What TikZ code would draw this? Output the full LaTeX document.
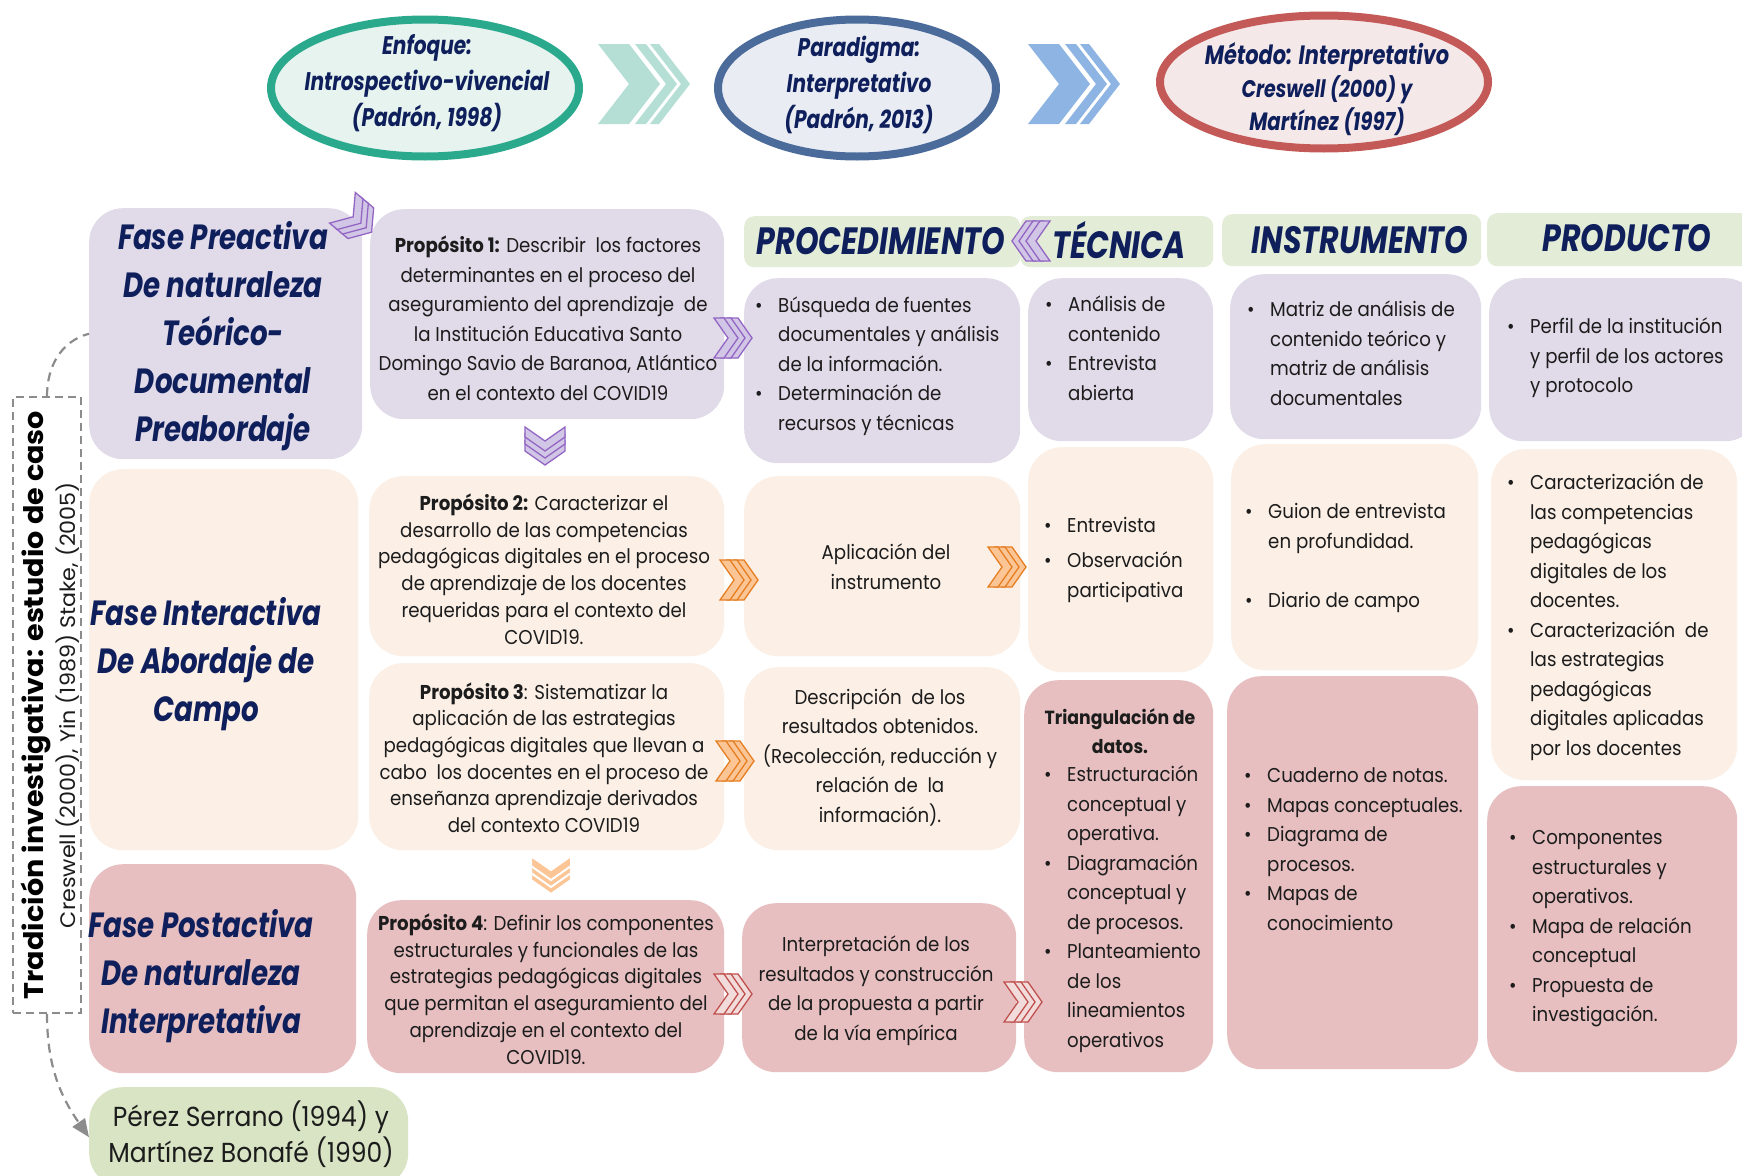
\documentclass[tikz,border=0pt]{standalone}
\usepackage{fontspec}
\setmainfont[FakeStretch=0.91]{Poppins}
\newfontfamily\bodyB[FakeStretch=0.91]{Poppins}
\newfontfamily\hd[FakeStretch=0.79]{Poppins}
\newfontfamily\wide[FakeStretch=1.06]{Poppins}
\usetikzlibrary{arrows.meta,shapes.geometric}
\definecolor{navy}{HTML}{0E1F5B}
\definecolor{lav}{HTML}{E0DAE9}
\definecolor{peach}{HTML}{FBEFE6}
\definecolor{rosa}{HTML}{E7BFC0}
\definecolor{hgreen}{HTML}{E3ECD6}
\definecolor{pgreen}{HTML}{D8E4C3}
\definecolor{txt}{HTML}{1C1C1C}
\definecolor{tealD}{HTML}{2BA98C}
\definecolor{tealF}{HTML}{E6F3EF}
\definecolor{tealC}{HTML}{B5DFD5}
\definecolor{blueD}{HTML}{4B6B9B}
\definecolor{blueF}{HTML}{E9ECF3}
\definecolor{blueC}{HTML}{8DB4E2}
\definecolor{redD}{HTML}{C45A57}
\definecolor{redF}{HTML}{F5E8E8}
\definecolor{purD}{HTML}{9366C4}
\definecolor{purF}{HTML}{D2C6E6}
\definecolor{orD}{HTML}{E67E22}
\definecolor{orF}{HTML}{FBC596}
\definecolor{pkD}{HTML}{C0504D}
\definecolor{pkF}{HTML}{F2DCDB}
\definecolor{dgray}{HTML}{8C8C8C}
\newcommand\bu{\makebox[23pt][l]{\textbullet}}
\tikzset{
  box/.style={rounded corners=34pt, inner sep=0pt, anchor=north west, draw=none},
  hbox/.style={rounded corners=10pt, inner sep=0pt, anchor=north west, draw=none, fill=hgreen},
  tb/.style={inner sep=0pt, text=txt, font=\fontsize{20}{29.5}\selectfont},
  tbc/.style={tb, align=center},
  tbn/.style={inner sep=0pt, text=txt, align=center, font=\fontsize{20}{26.7}\selectfont},
  tr/.style={inner sep=0pt, text=txt, font=\bodyB\fontsize{20}{29.5}\selectfont},
  hdr/.style={inner sep=0pt, text=navy, font=\hd\bfseries\itshape\fontsize{38}{40}\selectfont},
  phase/.style={inner sep=0pt, text=navy, align=center, font=\hd\bfseries\itshape\fontsize{35}{48}\selectfont},
  elt/.style={inner sep=0pt, text=navy, align=center, font=\hd\bfseries\itshape\fontsize{25.5}{36}\selectfont},
  ell/.style={ellipse, line width=8pt, inner sep=0pt},
  dline/.style={draw=dgray, line width=2.2pt, dash pattern=on 9pt off 6pt},
}
\newcommand\bx[6]{\node[box,fill=#2,minimum width=#5pt,minimum height=#6pt] (#1) at (#3,#4) {};}
\newcommand\hx[5]{\node[hbox,minimum width=#4pt,minimum height=#5pt] (#1) at (#2,#3) {};}
\newcommand\tchev[5]{%
  \begin{scope}[shift={#1},rotate=#2]
    \foreach \o in {14,7,0}{
      \filldraw[fill=#3,draw=#4,line width=#5,line join=miter]
        (\o-19,-20) -- ++(10,0) -- ++(14,20) -- ++(-14,20) -- ++(-10,0) -- ++(14,-20) -- cycle;}
  \end{scope}}
\newcommand\bigchev[2]{%
  \begin{scope}[shift={#1}]
    \fill[#2] (0,0) -- (31,0) -- (62,40) -- (31,80) -- (0,80) -- (31,40) -- cycle;
    \fill[#2] (37,0) -- (48,0) -- (79,40) -- (48,80) -- (37,80) -- (68,40) -- cycle;
    \fill[#2] (52,0) -- (61,0) -- (92,40) -- (61,80) -- (52,80) -- (83,40) -- cycle;
  \end{scope}}
\begin{document}
\begin{tikzpicture}[x=1pt,y=-1pt]
\useasboundingbox (0,0) rectangle (1742,1175);
\fill[white] (0,0) rectangle (1742,1175);

% top ellipses
\node[ell, draw=tealD, fill=tealF, minimum width=308pt, minimum height=137pt] (e1) at (425,88) {};
\node[ell, draw=blueD, fill=blueF, minimum width=278pt, minimum height=137pt] (e2) at (857,88) {};
\node[ell, draw=redD, fill=redF, minimum width=328pt, minimum height=133pt] (e3) at (1324,82) {};
\node[elt] (e1t) at (427,83) {Enfoque:\\Introspectivo-vivencial\\(Padrón, 1998)};
\node[elt] (e2t) at (859,85) {Paradigma:\\Interpretativo\\(Padrón, 2013)};
\node[elt, font=\hd\bfseries\itshape\fontsize{26.5}{33}\selectfont] (e3t) at (1327,89) {Método: Interpretativo\\{\fontsize{24}{33}\selectfont Creswell (2000) y}\\{\fontsize{25}{31}\selectfont Martínez (1997)}};
\bigchev{(598,44)}{tealC}
\bigchev{(1028,44)}{blueC}

% boxes
\bx{ph1}{lav}{89}{208}{273}{251}
\bx{ph2}{peach}{89}{469}{269}{381}
\bx{ph3}{rosa}{89}{864}{267}{209}
\bx{perez}{pgreen}{89}{1087}{319}{100}
\bx{p1}{lav}{370}{209}{354}{210}
\bx{p2}{peach}{369}{476}{355}{180}
\bx{p3}{peach}{369}{663}{355}{187}
\bx{p4}{rosa}{367}{900}{357}{173}
\bx{pc1}{lav}{744}{278}{276}{185}
\bx{pc2}{peach}{744}{476}{276}{180}
\bx{pc3}{peach}{744}{667}{276}{183}
\bx{pc4}{rosa}{742}{903}{274}{169}
\bx{t1}{lav}{1028}{278}{185}{163}
\bx{t2}{peach}{1028}{447}{185}{225}
\bx{t3}{rosa}{1024}{680}{189}{392}
\bx{i1}{lav}{1230}{274}{251}{165}
\bx{i2}{peach}{1231}{444}{247}{226}
\bx{i3}{rosa}{1227}{676}{251}{393}
\bx{pr1}{lav}{1489}{278}{270}{163}
\bx{pr2}{peach}{1491}{449}{246}{331}
\bx{pr3}{rosa}{1487}{786}{250}{286}
\hx{hproc}{744}{216}{276}{51}
\hx{htec}{1020}{216}{193}{51}
\hx{hins}{1222}{214}{259}{52}
\hx{hprod}{1487}{213}{270}{53}

% headers
\node[hdr] (hproct) at (881,241) {PROCEDIMIENTO};
\node[hdr] (htect) at (1119,240) {TÉCNICA};
\node[hdr] (hinst) at (1360,240) {INSTRUMENTO};
\node[hdr] (hprodt) at (1627,238) {PRODUCTO};

% phases
\node[phase] (ph1t) at (223,336.5) {Fase Preactiva\\De naturaleza\\Teórico-\\Documental\\Preabordaje};
\node[phase] (ph2t) at (206,664.5) {Fase Interactiva\\De Abordaje de\\Campo};
\node[phase] (ph3t) at (201,976.5) {Fase Postactiva\\De naturaleza\\Interpretativa};
\node[inner sep=0pt, text=txt, align=center, font=\fontsize{27.5}{36}\selectfont] (perezt) at (251,1134) {Pérez Serrano (1994) y\\Martínez Bonafé (1990)};

% purposes
\node[tbc] (p1t) at (548,318) {\textbf{Propósito 1:} Describir\ \ los factores\\determinantes en el proceso del\\aseguramiento del aprendizaje\ \ de\\la Institución Educativa Santo\\Domingo Savio de Baranoa, Atlántico\\en el contexto del COVID19};
\node[tbn] (p2t) at (544,569) {\textbf{Propósito 2:} Caracterizar el\\desarrollo de las competencias\\pedagógicas digitales en el proceso\\de aprendizaje de los docentes\\requeridas para el contexto del\\COVID19.};
\node[tbn] (p3t) at (544,757.5) {\textbf{Propósito 3}: Sistematizar la\\aplicación de las estrategias\\pedagógicas digitales que llevan a\\cabo\ \ los docentes en el proceso de\\enseñanza aprendizaje derivados\\del contexto COVID19};
\node[tbn] (p4t) at (546,989) {\textbf{Propósito 4}: Definir los componentes\\estructurales y funcionales de las\\estrategias pedagógicas digitales\\que permitan el aseguramiento del\\aprendizaje en el contexto del\\COVID19.};

% procedures
\node[tb, anchor=west] (pc1t) at (755,365.5) {\begin{tabular}{@{}l@{}l@{}}\bu & Búsqueda de fuentes\\ & documentales y análisis\\ & de la información.\\ \bu & Determinación de\\ & recursos y técnicas\end{tabular}};
\node[tbc] (pc2t) at (886,566.5) {Aplicación del\\instrumento};
\node[tbc] (pc3t) at (880,757) {Descripción\ \ de los\\resultados obtenidos.\\(Recolección, reducción y\\relación de\ \ la\\información).};
\node[tbc] (pc4t) at (876,990.5) {Interpretación de los\\resultados y construcción\\de la propuesta a partir\\de la vía empírica};

% techniques
\node[tb, anchor=west] (t1t) at (1045,350) {\begin{tabular}{@{}l@{}l@{}}\bu & Análisis de\\ & contenido\\ \bu & Entrevista\\ & abierta\end{tabular}};
\node[tr, anchor=west] (t2t) at (1044,559) {\begin{tabular}{@{}l@{}l@{}}\bu & Entrevista\\[6pt] \bu & Observación\\ & participativa\end{tabular}};
\node[tr, align=center, font=\bodyB\bfseries\fontsize{19}{29}\selectfont] (t3h) at (1120,731.5) {Triangulación de\\datos.};
\node[tr, anchor=west] (t3t) at (1044,908.5) {\begin{tabular}{@{}l@{}l@{}}\bu & Estructuración\\ & conceptual y\\ & operativa.\\ \bu & Diagramación\\ & conceptual y\\ & de procesos.\\ \bu & Planteamiento\\ & de los\\ & lineamientos\\ & operativos\end{tabular}};

% instruments
\node[tb, anchor=west] (i1t) at (1247,355) {\begin{tabular}{@{}l@{}l@{}}\bu & Matriz de análisis de\\ & contenido teórico y\\ & matriz de análisis\\ & documentales\end{tabular}};
\node[tr, anchor=west] (i2t) at (1245,557) {\begin{tabular}{@{}l@{}l@{}}\bu & Guion de entrevista\\ & en profundidad.\\[29.5pt] \bu & Diario de campo\end{tabular}};
\node[tr, anchor=west] (i3t) at (1244,850.5) {\begin{tabular}{@{}l@{}l@{}}\bu & Cuaderno de notas.\\ \bu & Mapas conceptuales.\\ \bu & Diagrama de\\ & procesos.\\ \bu & Mapas de\\ & conocimiento\end{tabular}};

% products
\node[tb, anchor=west] (pr1t) at (1507,357.5) {\begin{tabular}{@{}l@{}l@{}}\bu & Perfil de la institución\\ & y perfil de los actores\\ & y protocolo\end{tabular}};
\node[tr, anchor=west] (pr2t) at (1507,616.5) {\begin{tabular}{@{}l@{}l@{}}\bu & Caracterización de\\ & las competencias\\ & pedagógicas\\ & digitales de los\\ & docentes.\\ \bu & Caracterización\ \ de\\ & las estrategias\\ & pedagógicas\\ & digitales aplicadas\\ & por los docentes\end{tabular}};
\node[tr, anchor=west] (pr3t) at (1509,927.5) {\begin{tabular}{@{}l@{}l@{}}\bu & Componentes\\ & estructurales y\\ & operativos.\\ \bu & Mapa de relación\\ & conceptual\\ \bu & Propuesta de\\ & investigación.\end{tabular}};

% chevrons
\tchev{(357,220)}{-40}{purF}{purD}{1.3pt}
\tchev{(733,338)}{0}{purF}{purD}{1.3pt}
\tchev{(545,446)}{-90}{purF}{purD}{1.3pt}
\tchev{(1031,241)}{180}{purF}{purD}{1.3pt}
\tchev{(739,580)}{0}{orF}{orD}{1.3pt}
\tchev{(1007,567)}{0}{orF}{orD}{1.3pt}
\tchev{(735,761)}{0}{orF}{orD}{1.3pt}
\tchev{(551,875)}{-90}{orF}{white}{2pt}
\tchev{(733,994)}{0}{pkF}{pkD}{1.3pt}
\tchev{(1023,1002)}{0}{pkF}{pkD}{1.3pt}

% tradition
\node[draw=dgray, line width=1.6pt, dash pattern=on 8pt off 5pt, minimum width=68pt, minimum height=616pt, inner sep=0pt] (trad) at (47,705) {};
\node[rotate=90, inner sep=0pt, text=black, font=\wide\bfseries\fontsize{27}{30}\selectfont] (tradt) at (36,705) {Tradición investigativa: estudio de caso};
\node[rotate=90, inner sep=0pt, text=txt, font=\wide\fontsize{21}{24}\selectfont] (tradc) at (68,705) {Creswell (2000), Yin (1989) Stake, (2005)};
\draw[dline] (trad.north) to[out=90,in=195] (ph1.west);
\draw[dline, -{Triangle[length=18pt,width=15pt]}] (trad.south) to[out=-90,in=125] (perez.west);
\end{tikzpicture}
\end{document}
